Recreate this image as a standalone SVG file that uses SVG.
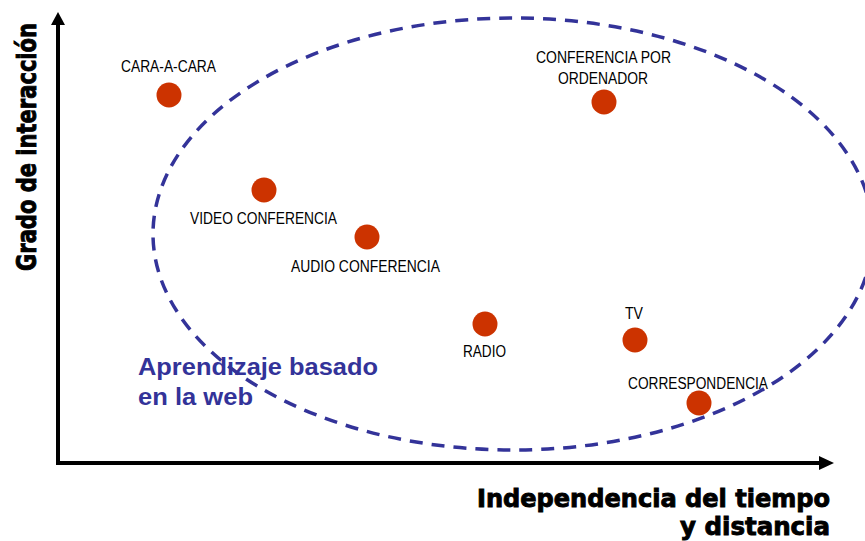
<svg xmlns="http://www.w3.org/2000/svg" width="865" height="541" viewBox="0 0 865 541">
<defs>
<style>
.dot{fill:#cc3300}
.lbl{font-family:"Liberation Sans",Arial,sans-serif;font-size:16px;fill:#000}
.ax{stroke:#000;stroke-width:4;fill:none}
.heavy{font-family:"DejaVu Sans","Liberation Sans",sans-serif;font-weight:bold;fill:#000;stroke:#000;stroke-width:0.9}
.web{font-family:"Liberation Sans",Arial,sans-serif;font-weight:bold;font-size:23px;fill:#333399}
</style>
</defs>
<rect width="865" height="541" fill="#fff"/>
<g id="ellipse">
<ellipse cx="513" cy="234" rx="360" ry="216" fill="none" stroke="#333399" stroke-width="3.5" stroke-dasharray="13 9"/>
</g>
<g id="connectors">
<line class="ax" x1="58" y1="465" x2="58" y2="22"/>
<polygon points="58,12 51,25 65,25" fill="#000"/>
<line class="ax" x1="56" y1="463" x2="822" y2="463"/>
<polygon points="834,463 819,456 819,470" fill="#000"/>
</g>
<g id="n-cara">
<circle class="dot" cx="169" cy="95" r="12.5"/>
<text class="lbl" x="121" y="72" textLength="95" lengthAdjust="spacingAndGlyphs">CARA-A-CARA</text>
</g>
<g id="n-ordenador">
<circle class="dot" cx="604" cy="102" r="12.5"/>
<text class="lbl" x="536" y="63" textLength="135" lengthAdjust="spacingAndGlyphs">CONFERENCIA POR</text>
<text class="lbl" x="558" y="84" textLength="90" lengthAdjust="spacingAndGlyphs">ORDENADOR</text>
</g>
<g id="n-video">
<circle class="dot" cx="264" cy="190" r="12.5"/>
<text class="lbl" x="190" y="224" textLength="147" lengthAdjust="spacingAndGlyphs">VIDEO CONFERENCIA</text>
</g>
<g id="n-audio">
<circle class="dot" cx="367" cy="237" r="12.5"/>
<text class="lbl" x="291" y="272" textLength="149" lengthAdjust="spacingAndGlyphs">AUDIO CONFERENCIA</text>
</g>
<g id="n-radio">
<circle class="dot" cx="485" cy="324" r="12.5"/>
<text class="lbl" x="463" y="357" textLength="43" lengthAdjust="spacingAndGlyphs">RADIO</text>
</g>
<g id="n-tv">
<circle class="dot" cx="635" cy="340" r="12.5"/>
<text class="lbl" x="625" y="319" textLength="18" lengthAdjust="spacingAndGlyphs">TV</text>
</g>
<g id="n-corr">
<circle class="dot" cx="699" cy="403" r="12.5"/>
<text class="lbl" x="628" y="389" textLength="140" lengthAdjust="spacingAndGlyphs">CORRESPONDENCIA</text>
</g>
<g id="web-label">
<text class="web" x="138" y="375" textLength="240" lengthAdjust="spacingAndGlyphs">Aprendizaje basado</text>
<text class="web" x="138" y="405" textLength="115" lengthAdjust="spacingAndGlyphs">en la web</text>
</g>
<g id="y-label">
<text class="heavy" font-size="26" transform="translate(36,271) rotate(-90)" textLength="248" lengthAdjust="spacingAndGlyphs">Grado de interacción</text>
</g>
<g id="x-label">
<text class="heavy" font-size="24" x="477" y="507" textLength="353" lengthAdjust="spacingAndGlyphs">Independencia del tiempo</text>
<text class="heavy" font-size="24" x="680" y="535" textLength="150" lengthAdjust="spacingAndGlyphs">y distancia</text>
</g>
</svg>
